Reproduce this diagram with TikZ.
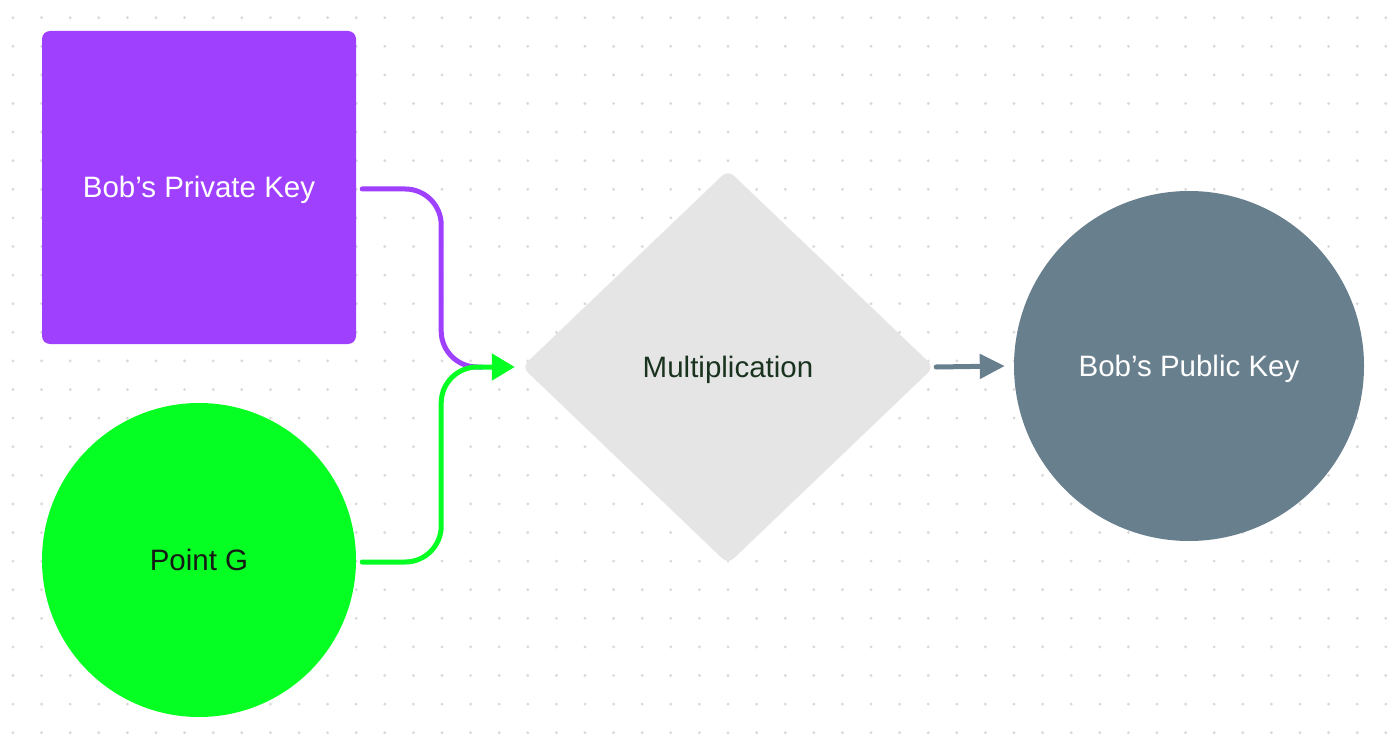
\documentclass[tikz,border=0pt]{standalone}
\usepackage{fontspec}
\setmainfont{Liberation Sans}
\usetikzlibrary{shapes.geometric,arrows.meta}
\definecolor{purplec}{HTML}{A040FF}
\definecolor{greenc}{HTML}{05FF22}
\definecolor{diamc}{HTML}{E5E5E5}
\definecolor{slatec}{HTML}{687F8E}
\definecolor{dotc}{HTML}{DADADA}
\definecolor{multtext}{HTML}{1A331F}
\definecolor{darktext}{HTML}{151A15}
\tikzset{
  lbl/.style={font=\fontsize{29.5}{36}\selectfont, text height=24pt, text depth=3pt},
  conn/.style={line width=5pt, line cap=round, rounded corners=36pt},
}
\begin{document}
\begin{tikzpicture}[x=1pt,y=-1pt]
\useasboundingbox (0,0) rectangle (1400,746);
\fill[white] (0,0) rectangle (1400,746);
\foreach \i in {0,...,48}{
  \foreach \j in {0,...,25}{
    \fill[dotc] ({13+28.6*\i},{17.7+28.6*\j}) circle (1.6pt);
  }
}
\node[lbl, draw=none, fill=purplec, text=white, rectangle, rounded corners=8pt,
      minimum width=314pt, minimum height=313pt, inner sep=0pt] (pk) at (199,187.5) {Bob’s Private Key};
\node[lbl, fill=greenc, text=darktext, circle, minimum size=314pt, inner sep=0pt] (pg) at (199,560) {Point G};
\node[lbl, fill=diamc, text=multtext, diamond, rounded corners=8pt,
      minimum width=412pt, minimum height=394pt, inner sep=0pt] (mult) at (728,367) {Multiplication};
\node[lbl, fill=slatec, text=white, circle, minimum size=350pt, inner sep=0pt] (pub) at (1189,366) {Bob’s Public Key};
\coordinate (pkend) at ([xshift=-40pt]mult.west);
\draw[conn, purplec] ([xshift=6pt,yshift=-1.5pt]pk.east) -- ([xshift=85pt,yshift=-1.5pt]pk.east) |- (pkend);
\draw[conn, greenc, -{Triangle[length=23pt,width=26pt]}] ([xshift=6pt,yshift=-2pt]pg.east) -- ([xshift=85pt,yshift=-2pt]pg.east) |- ([xshift=-7pt]mult.west);
\draw[line width=5pt, line cap=round, slatec, -{Triangle[length=25pt,width=24pt]}] ([xshift=2pt]mult.east) -- ([xshift=-9pt]pub.west);
\end{tikzpicture}
\end{document}
